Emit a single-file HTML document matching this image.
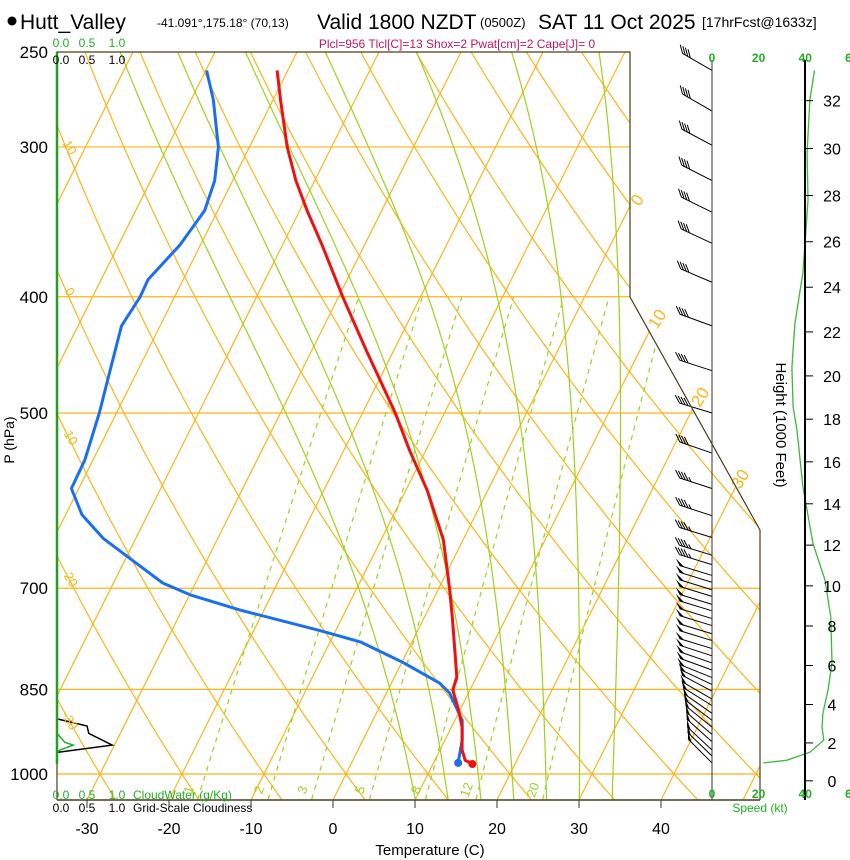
<!DOCTYPE html>
<html><head><meta charset="utf-8"><style>
html,body{margin:0;padding:0;background:#fff;}
svg{display:block;font-family:"Liberation Sans",Arial,sans-serif;}
</style></head><body>
<svg id="skewt" width="850" height="860" viewBox="0 0 850 860" xmlns="http://www.w3.org/2000/svg">
<defs><clipPath id="plotclip"><polygon points="57,52 630,52 630,297 760,530 760,800 57,800"/></clipPath></defs>
<g>
<circle cx="12" cy="21" r="4.5" fill="#000"/>
<text x="20" y="29" font-size="21">Hutt_Valley</text>
<text x="157" y="27" font-size="12">-41.091°,175.18° (70,13)</text>
<text x="317" y="29" font-size="21">Valid 1800 NZDT</text>
<text x="480" y="27" font-size="13">(0500Z)</text>
<text x="538" y="29" font-size="21">SAT 11 Oct 2025</text>
<text x="702" y="27" font-size="14">[17hrFcst@1633z]</text>
</g>
<text x="457" y="48" font-size="12" fill="#c0185c" text-anchor="middle">Plcl=956 Tlcl[C]=13 Shox=2 Pwat[cm]=2 Cape[J]= 0</text>
<g id="grid" clip-path="url(#plotclip)"></g>
<g id="marks"></g>
<g id="axes"></g>
</svg>
<script>
// ---- data ----
const tempP = [259,274,300,320,339,362,400,443,500,537,580,638,700,740,788,830,851,884,914,955,974,981];
const tempC = [-51.3,-49.1,-45.4,-42.3,-39.1,-35.2,-29.5,-23.4,-16.0,-12.0,-7.4,-2.4,1.3,3.4,5.7,7.6,7.9,9.8,11.3,12.7,13.7,14.8];
const dewP = [259,274,300,320,339,362,387,400,423,460,500,547,578,608,636,661,693,709,730,759,776,807,840,856,902,937,979];
const dewC = [-59.9,-57.3,-53.8,-52.2,-51.6,-52.5,-54.3,-54.2,-54.7,-53.4,-52.1,-51.0,-50.9,-48.0,-44.0,-39.5,-34.0,-29.9,-22.9,-12.0,-6.3,0.1,5.9,7.7,10.9,12.1,13.0];
const speedP = [259,274,303,332,359,382,421,458,494,517,576,642,689,740,808,851,890,914,937,959,974,979];
const speedKt = [44,42,40.8,41.2,40,39,35.6,34.3,34.8,36.5,39,43.3,48.5,51,51.5,49.8,47.6,47.2,48,42,32,22];
const barbP = [259,280,299,320,340,361,389,423,461,500,540,578,609,635,657,669,683,692,702,711,722,731,742,752,764,774,786,797,808,819,831,842,853,866,877,890,902,914,927,940,955,966,979];
const barbKt = [40,40,40,40,40,40,40,40,40,40,40,45,45,45,45,45,50,50,50,50,50,50,50,50,50,50,50,50,50,50,50,50,50,50,50,50,50,50,50,50,50,50,50];
const barbDir = [300,300,298,297,296,295,293,290,288,287,289,288,288,287,287,287,287,287,287,287,287,287,287,287,287,287,287,288,289,290,292,295,298,300,302,305,307,309,311,312,313,314,315];
const cloudP = [900,912,925,946,959];
const cloudFrac = [0.02,0.5,0.53,0.92,0.02];
const cwP = [925,941,946,955,959];
const cwVal = [0,0.13,0.27,0.05,0];
const isothermT = [-120,-110,-100,-90,-80,-70,-60,-50,-40,-30,-20,-10,0,10,20,30,40,50];
const thetaC = [-40,-30,-20,-10,0,10,20,30,40,50,60,70,80,90,100,110,120,130,140,150,160,170];
const moistT1050 = [10,14,18,22,26,30,34];
const mixW = [1,2,3,5,8,12,20];
const isobars = [300,400,500,700,850,1000];
const pLabels = [250,300,400,500,700,850,1000];
const tTicks = [-30,-20,-10,0,10,20,30,40];
const hTicks = [0,2,4,6,8,10,12,14,16,18,20,22,24,26,28,30,32];
const spdTicks = [0,20,40,60];

// ---- scales ----
const yP = p => 52 + 520.8*Math.log(p/250);
const xT = (T,p) => 333 + 8.2*T + 0.5*(800 - yP(p));
const xSpd = s => 712 + 2.33*s;
const xCloud = v => 57 + 60*v;
const hToP = kft => 1013.25*Math.pow(1 - 6.5e-3*(kft*304.8)/288.15, 5.2559);
const NS = 'http://www.w3.org/2000/svg';
function mk(tag, attrs, parent){const e=document.createElementNS(NS,tag);for(const k in attrs)e.setAttribute(k,attrs[k]);parent.appendChild(e);return e;}
const grid = document.getElementById('grid'), marks = document.getElementById('marks'), axes = document.getElementById('axes');
const ORANGE = '#fbb41a', GREEN = '#9ad21e';
const pts = a => a.map(q=>q[0].toFixed(1)+','+q[1].toFixed(1)).join(' ');

isobars.forEach(p=>{
  const l = mk('line',{x1:57,x2:760,y1:yP(p),y2:yP(p),stroke:ORANGE,'stroke-width':1.2},grid);
  
  
});
isothermT.forEach(T=>{
  const l = mk('line',{x1:xT(T,1050),y1:yP(1050),x2:xT(T,250),y2:yP(250),stroke:ORANGE,'stroke-width':1.2},grid);
  
  
});
thetaC.forEach(th=>{
  const a=[]; for(let p=1050;p>=250;p-=10){a.push([xT((th+273.15)*Math.pow(p/1000,0.2857)-273.15,p),yP(p)]);}
  const l = mk('polyline',{points:pts(a),fill:'none',stroke:ORANGE,'stroke-width':1.2},grid);
  
  
});
function es(Tc){return 6.112*Math.exp(17.67*Tc/(Tc+243.5));}
moistT1050.forEach(t0=>{
  let T=t0+273.15; const a=[];
  for(let p=1050;p>=250;p-=5){
    a.push([xT(T-273.15,p),yP(p)]);
    const e=es(T-273.15), rs=0.622*e/(p-e);
    const d=(287*T+2.5e6*rs)/(p*(1004+2.5e6*2.5e6*rs*0.622/(287*T*T)));
    T-=d*5;
  }
  const l = mk('polyline',{points:pts(a),fill:'none',stroke:GREEN,'stroke-width':1.2},grid);
  
  
});
function tdFromW(w,p){const e=w*p/(622+w);const L=Math.log(e/6.112);return 243.5*L/(17.67-L);}
mixW.forEach(w=>{
  const a=[]; for(let p=1050;p>=400;p-=10){a.push([xT(tdFromW(w,p),p),yP(p)]);}
  const l = mk('polyline',{points:pts(a),fill:'none',stroke:GREEN,'stroke-width':1.2,'stroke-dasharray':'5,5'},grid);
  
  
  const px=xT(tdFromW(w,1030),1030)-8, py=yP(1030)+2;
  const t = mk('text',{x:px,y:py,'font-size':13,fill:GREEN,'text-anchor':'middle',transform:`rotate(-70 ${px} ${py})`},axes);
  t.textContent=w;
  
  
});
[-30,-20,-10,0,10].forEach(th=>{
  let best=null;
  for(let p=250;p<=1050;p+=1){const x=xT((th+273.15)*Math.pow(p/1000,0.2857)-273.15,p);if(x>=57){best=p;break;}}
  if(best){const y=yP(best)+24;
    const t=mk('text',{x:66,y:y,'font-size':13,fill:ORANGE,'text-anchor':'middle',transform:`rotate(60 66 ${y})`},axes);
    t.textContent=th;
    
    }
});
[[0,642,203],[10,662,322],[20,705,400],[30,745,482]].forEach(d=>{
  const t=mk('text',{x:d[1],y:d[2],'font-size':17,fill:ORANGE,'text-anchor':'middle',transform:`rotate(-58 ${d[1]} ${d[2]})`},axes);
  t.textContent=d[0];
  
  
});

const frame = mk('polyline',{points:'57,800 57,52 630,52 630,297 760,530 760,800',fill:'none',stroke:'#4a3d1a','stroke-width':1.2},axes);


const bottom = mk('line',{x1:57,x2:760,y1:800,y2:800,stroke:'#4a3d1a','stroke-width':1.5},axes);


const lax = mk('line',{x1:57,x2:57,y1:52,y2:764,stroke:'#22a022','stroke-width':2.5},axes);


const wcol = mk('line',{x1:712,x2:712,y1:60,y2:800,stroke:'#333','stroke-width':1},axes);


const hax = mk('line',{x1:805,x2:805,y1:60,y2:800,stroke:'#000','stroke-width':2},axes);



tTicks.forEach(T=>{
  const x=333+8.2*T;
  const tk=mk('line',{x1:x,x2:x,y1:800,y2:808,stroke:'#333'},axes);
  
  
  const t=mk('text',{x:x,y:834,'font-size':16,'text-anchor':'middle'},axes);
  t.textContent=T;
  
  
});
const xt=mk('text',{x:430,y:855,'font-size':15,'text-anchor':'middle'},axes);
xt.textContent='Temperature (C)';


pLabels.forEach(p=>{
  const t=mk('text',{x:48,y:yP(p)+6,'font-size':17,'text-anchor':'end'},axes);
  t.textContent=p;
  
  
});
const yt=mk('text',{x:14,y:440,'font-size':14,'text-anchor':'middle',transform:'rotate(-90 14 440)'},axes);
yt.textContent='P (hPa)';


hTicks.forEach(h=>{
  const y=yP(hToP(h));
  const tk=mk('line',{x1:805,x2:813,y1:y,y2:y,stroke:'#000'},axes);
  
  
  const t=mk('text',{x:832,y:y+6,'font-size':16,'text-anchor':'middle'},axes);
  t.textContent=h;
  
  
});
const ht=mk('text',{x:776,y:425,'font-size':15,'text-anchor':'middle',transform:'rotate(90 776 425)'},axes);
ht.textContent='Height (1000 Feet)';


spdTicks.forEach(s=>{
  [62,798].forEach(y=>{
    const t=mk('text',{x:xSpd(s),y:y,'font-size':12,'font-weight':'bold',fill:'#22b022','text-anchor':'middle'},axes);
    t.textContent=s;
    
    
  });
});
const st=mk('text',{x:760,y:812,'font-size':12,fill:'#22b022','text-anchor':'middle'},axes);
st.textContent='Speed (kt)';


[[0,'0.0'],[0.5,'0.5'],[1,'1.0']].forEach(d=>{
  const x=xCloud(d[0])+ (d[0]===0?4:0);
  [[47,'#22b022'],[64,'#000'],[799,'#22b022'],[812,'#000']].forEach(r=>{
    const t=mk('text',{x:x,y:r[0],'font-size':12,fill:r[1],'text-anchor':'middle'},axes);
    t.textContent=d[1];
    
    
  });
});
const cwt=mk('text',{x:133,y:799,'font-size':12,fill:'#22b022'},axes);
cwt.textContent='CloudWater (g/Kg)';


const gct=mk('text',{x:133,y:812,'font-size':12,fill:'#000'},axes);
gct.textContent='Grid-Scale Cloudiness';



const cl=mk('polyline',{points:pts(cloudP.map((p,i)=>[xCloud(cloudFrac[i]),yP(p)])),fill:'none',stroke:'#000','stroke-width':1.5},marks);


const cw=mk('polyline',{points:pts(cwP.map((p,i)=>[xCloud(cwVal[i]),yP(p)])),fill:'none',stroke:'#22b022','stroke-width':1.5},marks);



const sp=mk('polyline',{points:pts(speedP.map((p,i)=>[xSpd(speedKt[i]),yP(p)])),fill:'none',stroke:'#3cb83c','stroke-width':1.3},marks);



const dl=mk('polyline',{points:pts(dewP.map((p,i)=>[xT(dewC[i],p),yP(p)])),fill:'none',stroke:'#1a6ff0','stroke-width':3,'stroke-linejoin':'round'},marks);


const tl=mk('polyline',{points:pts(tempP.map((p,i)=>[xT(tempC[i],p),yP(p)])),fill:'none',stroke:'#f01010','stroke-width':3,'stroke-linejoin':'round'},marks);


const nd=dewP.length-1, nt=tempP.length-1;
const dd=mk('circle',{cx:xT(dewC[nd],dewP[nd]),cy:yP(dewP[nd]),r:4,fill:'#1a6ff0'},marks);


const td=mk('circle',{cx:xT(tempC[nt],tempP[nt]),cy:yP(tempP[nt]),r:4,fill:'#f01010'},marks);



barbP.forEach((p,i)=>{
  const g=mk('g',{},marks);
  
  
  const y0=yP(p), x0=712, L=34, a=barbDir[i]*Math.PI/180;
  const ux=Math.sin(a), uy=-Math.cos(a);
  const xe=x0+ux*L, ye=y0+uy*L;
  mk('line',{x1:x0,y1:y0,x2:xe,y2:ye,stroke:'#000','stroke-width':1},g);
  const px=-uy, py=ux;
  let bx=-px*0.7+ux*0.7, by=-py*0.7+uy*0.7;
  if(by>0){bx=px*0.7+ux*0.7;by=py*0.7+uy*0.7;}
  const bl=Math.hypot(bx,by); bx/=bl; by/=bl;
  let s=barbKt[i], k=0;
  while(s>=50){
    const ax=xe-ux*k*3, ay=ye-uy*k*3, cx=ax-ux*5, cy=ay-uy*5;
    mk('polygon',{points:`${ax},${ay} ${cx},${cy} ${ax+bx*8},${ay+by*8}`,fill:'#000'},g);
    s-=50;k+=2;
  }
  while(s>=10){const ax=xe-ux*k*3, ay=ye-uy*k*3;
    mk('line',{x1:ax,y1:ay,x2:ax+bx*9,y2:ay+by*9,stroke:'#000','stroke-width':1},g);s-=10;k++;}
  if(s>=5){const ax=xe-ux*k*3, ay=ye-uy*k*3;
    mk('line',{x1:ax,y1:ay,x2:ax+bx*5,y2:ay+by*5,stroke:'#000','stroke-width':1},g);}
});
</script>
</body></html>
